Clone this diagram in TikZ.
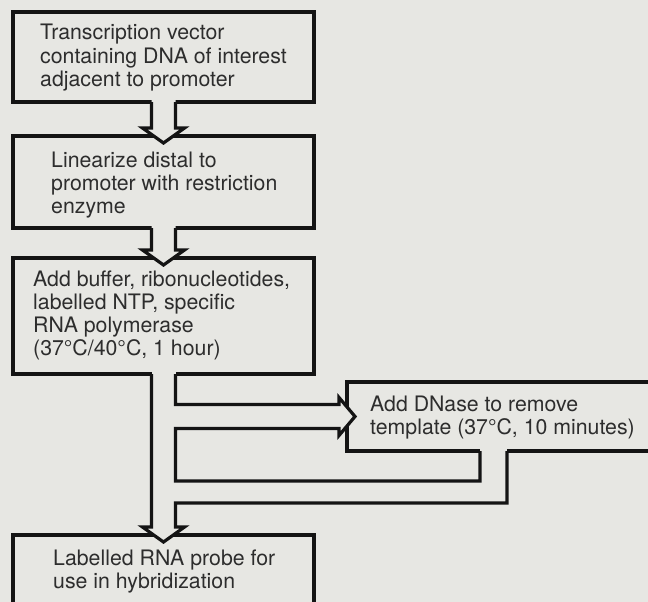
\documentclass[tikz,border=0pt]{standalone}
\usepackage{fontspec}
\setmainfont{TeX Gyre Heros}
\usetikzlibrary{calc}
\definecolor{paper}{RGB}{231,231,227}
\definecolor{ink}{RGB}{20,20,20}
\definecolor{print}{RGB}{45,45,45}
% several left-aligned lines whose baseline is that of the first line
\newcommand\steplines[1]{\vtop{\baselineskip=23.3pt\halign{##\hfil\cr#1\crcr}}}
% hollow downward arrow from the bottom of one box into the top of the next
\newcommand\hollowdown[2]{%
  \fill[paper] ($(#1.south)+(-12,-3)$) -- ($(#2.north)+(-12,-8)$) -- ($(#2.north)+(-21,-8)$)
    -- ($(#2.north)+(0,7)$) -- ($(#2.north)+(21,-8)$) -- ($(#2.north)+(12,-8)$)
    -- ($(#1.south)+(12,-3)$) -- cycle;
  \draw[wall] ($(#1.south)+(-12,0)$) -- ($(#2.north)+(-12,-8)$) -- ($(#2.north)+(-21,-8)$)
    -- ($(#2.north)+(0,7)$) -- ($(#2.north)+(21,-8)$) -- ($(#2.north)+(12,-8)$)
    -- ($(#1.south)+(12,0)$);}
\begin{document}
\begin{tikzpicture}[x=1pt,y=-1pt,
  box/.style={rectangle,draw=ink,line width=3.2pt,inner sep=0pt,outer sep=0pt},
  wall/.style={draw=ink,line width=3.2pt,line join=miter},
  steptext/.style={anchor=base west,inner sep=0pt,text=print,font=\fontsize{21.3}{23.3}\selectfont}]
\fill[paper] (0,0) rectangle (648,602);
\useasboundingbox (0,0) rectangle (648,602);
\clip (0,0) rectangle (648,602);

% step boxes
\node[box,minimum width=301pt,minimum height=90pt]  (b1) at (163.5,57) {};
\node[box,minimum width=301pt,minimum height=92pt]  (b2) at (163.5,182) {};
\node[box,minimum width=301pt,minimum height=116pt] (b3) at (163.5,316) {};
\node[box,minimum width=323pt,minimum height=69pt]  (dn) at (508.5,416.5) {};
\node[box,minimum width=301pt,minimum height=110pt] (b4) at (163.5,590) {};

% straight steps
\hollowdown{b1}{b2}
\hollowdown{b2}{b3}

% side loop through the DNase step
\coordinate (sL) at ($(b3.south)+(-12,0)$);
\coordinate (sR) at ($(b3.south)+(12,0)$);
\coordinate (feedT) at ($(dn.west)+(-8,-12)$);
\coordinate (feedB) at ($(dn.west)+(-8,12)$);
\coordinate (retI) at ($(dn.south west)+(133,0)$);
\coordinate (retO) at ($(dn.south west)+(160,0)$);
\coordinate (loopI) at ($(sR)+(0,107)$);
\coordinate (loopO) at ($(b4.north)+(12,-32)$);

% open the box edges where the bands leave and enter
\fill[paper] ($(sL)+(0,-3)$) rectangle ($(sR)+(0,3)$);
\fill[paper] ($(retI)+(0,-3)$) rectangle ($(retO)+(0,3)$);
\fill[paper] ($(dn.west)+(-8,-19)$) -- ($(dn.west)+(8,0)$) -- ($(dn.west)+(-8,19)$) -- cycle;
\fill[paper] ($(b4.north)+(-21,-8)$) -- ($(b4.north)+(0,7)$) -- ($(b4.north)+(21,-8)$) -- cycle;

% band into the DNase step and the inner wall of the return
\draw[wall] (sR) |- (feedT) -- ($(dn.west)+(-8,-19)$) -- ($(dn.west)+(8,0)$)
  -- ($(dn.west)+(-8,19)$) -- (feedB) -- (sR |- feedB) -- (loopI) -- (loopI -| retI) -- (retI);

% outer wall down to the labelled probe
\draw[wall] (sL) -- ($(b4.north)+(-12,-8)$) -- ($(b4.north)+(-21,-8)$) -- ($(b4.north)+(0,7)$)
  -- ($(b4.north)+(21,-8)$) -- ($(b4.north)+(12,-8)$) -- (loopO) -- (loopO -| retO) -- (retO);

% texts
\node[steptext] (t1) at (40,40) {\steplines{Transcription vector\cr containing DNA of interest\cr adjacent to promoter}};
\node[steptext] (t2) at (51,167) {\steplines{Linearize distal to\cr promoter with restriction\cr enzyme}};
\node[steptext] (t3) at (33,286) {\steplines{Add buffer, ribonucleotides,\cr labelled NTP, specific\cr RNA polymerase\cr (37°C/40°C, 1 hour)}};
\node[steptext] (t4) at (370,411) {\steplines{Add DNase to remove\cr template (37°C, 10 minutes)}};
\node[steptext] (t5) at (53,565) {\steplines{Labelled RNA probe for\cr use in hybridization}};
\end{tikzpicture}
\end{document}
